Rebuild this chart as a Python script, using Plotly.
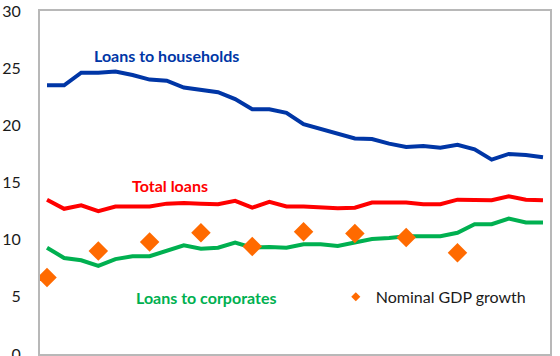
import plotly.graph_objects as go

# Period index (no tick labels shown on the horizontal axis)
periods = list(range(30))

households = [23.5, 23.5, 24.6, 24.6, 24.7, 24.4, 24.0, 23.9, 23.3, 23.1,
              22.9, 22.3, 21.4, 21.4, 21.1, 20.1, 19.7, 19.3, 18.85, 18.8,
              18.4, 18.1, 18.2, 18.05, 18.3, 17.9, 17.0, 17.5, 17.4, 17.2]

total_loans = [13.5, 12.7, 13.0, 12.5, 12.9, 12.9, 12.9, 13.15, 13.2, 13.15,
               13.1, 13.4, 12.8, 13.3, 12.9, 12.9, 12.8, 12.75, 12.8, 13.25,
               13.25, 13.25, 13.1, 13.1, 13.5, 13.5, 13.45, 13.8, 13.5, 13.45]

corporates = [9.3, 8.4, 8.2, 7.7, 8.3, 8.55, 8.55, 9.0, 9.5, 9.2,
              9.3, 9.75, 9.3, 9.35, 9.3, 9.6, 9.6, 9.45, 9.75, 10.05,
              10.15, 10.3, 10.3, 10.3, 10.6, 11.35, 11.35, 11.85, 11.5, 11.5]

gdp_periods = [0, 3, 6, 9, 12, 15, 18, 21, 24]
gdp_growth = [6.7, 9.0, 9.8, 10.6, 9.4, 10.7, 10.55, 10.2, 8.85]

y_ticks = [0, 5, 10, 15, 20, 25, 30]

BLUE = "#0036a6"
RED = "#ff0000"
GREEN = "#00b050"
ORANGE = "#ff6a00"
FONT = "Lato"

fig = go.Figure()

fig.add_trace(go.Scatter(x=periods, y=households, mode="lines",
                         line=dict(color=BLUE, width=4), showlegend=False))
fig.add_trace(go.Scatter(x=periods, y=total_loans, mode="lines",
                         line=dict(color=RED, width=4), showlegend=False))
fig.add_trace(go.Scatter(x=periods, y=corporates, mode="lines",
                         line=dict(color=GREEN, width=4), showlegend=False))
fig.add_trace(go.Scatter(x=gdp_periods, y=gdp_growth, mode="markers",
                         marker=dict(symbol="diamond", size=15, color=ORANGE),
                         legendgroup="gdp", showlegend=False))
# legend key for the GDP diamonds, drawn at a smaller size
fig.add_trace(go.Scatter(x=[None], y=[None], mode="markers", name="Nominal GDP growth",
                         marker=dict(symbol="diamond", size=7, color=ORANGE),
                         legendgroup="gdp", showlegend=True))

label_font = dict(family=FONT, size=16)
fig.add_annotation(x=0.249, y=26.1, xref="paper", yref="y", xanchor="center",
                   text="<b>Loans to households</b>",
                   showarrow=False, font=dict(color=BLUE, **label_font))
fig.add_annotation(x=0.255, y=14.7, xref="paper", yref="y", xanchor="center",
                   text="<b>Total loans</b>",
                   showarrow=False, font=dict(color=RED, **label_font))
fig.add_annotation(x=0.325, y=4.95, xref="paper", yref="y", xanchor="center",
                   text="<b>Loans to corporates</b>",
                   showarrow=False, font=dict(color=GREEN, **label_font))

fig.update_layout(
    width=560, height=356,
    margin=dict(l=40, r=10, t=11, b=2),
    paper_bgcolor="white", plot_bgcolor="white",
    font=dict(family=FONT, size=16, color="#1a1a1a"),
    legend=dict(x=0.58, y=5.0 / 30, xanchor="left", yanchor="middle",
                bgcolor="rgba(0,0,0,0)", font=dict(family=FONT, size=16, color="#1a1a1a"),
                itemwidth=30),
    xaxis=dict(range=[-0.41, 29.41], showticklabels=False, showgrid=False, zeroline=False,
               showline=True, linecolor="#b8b8b8", linewidth=2, mirror=True, ticks="",
               automargin=False),
    yaxis=dict(range=[0, 30], tickvals=y_ticks, showgrid=False, zeroline=False,
               showline=True, linecolor="#b8b8b8", linewidth=2, mirror=True,
               ticks="", ticklabelstandoff=14, ticklabeloverflow="allow",
               automargin=False),
)

fig.write_html("out.html")
